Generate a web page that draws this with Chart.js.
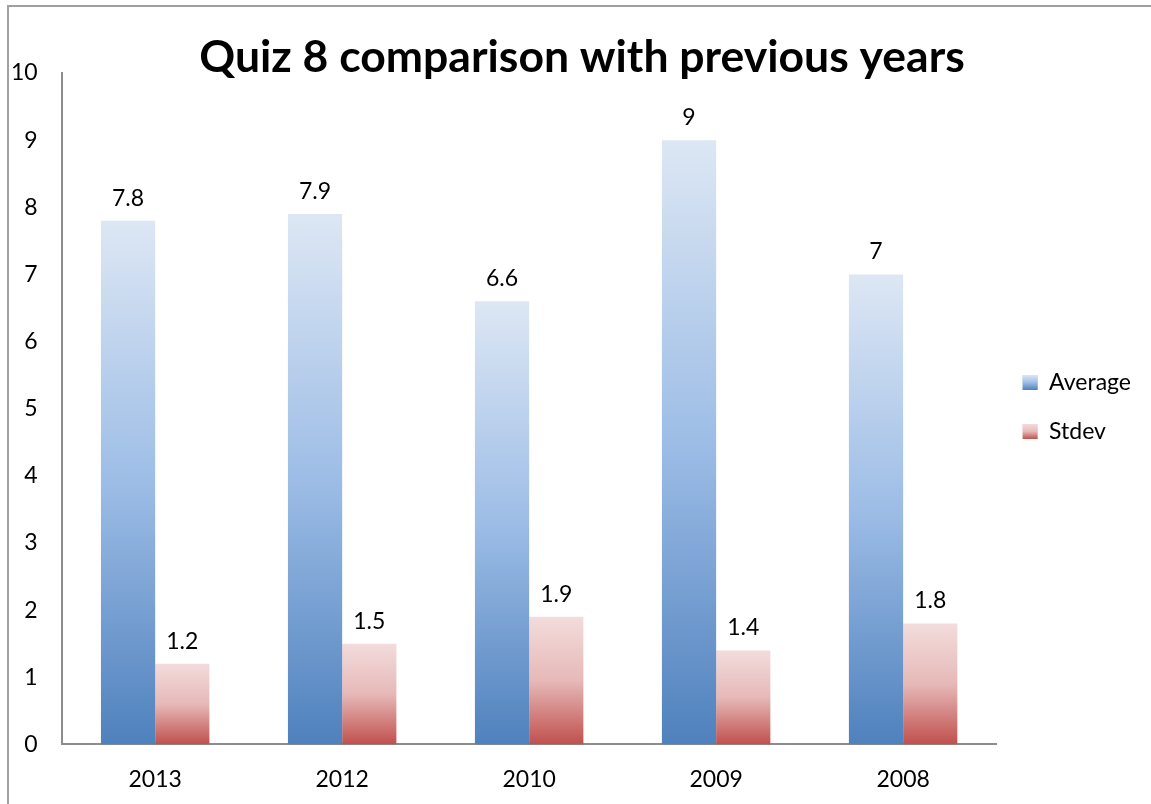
<!DOCTYPE html>
<html>
<head>
<meta charset="utf-8">
<script src="https://cdn.jsdelivr.net/npm/chart.js@4"></script>
<style>
  html, body { margin: 0; padding: 0; background: #fff; }
  #wrap { position: relative; width: 1151px; height: 804px; }
  #frame { position: absolute; left: 7px; top: 5px; right: -10px; bottom: -10px; border-left: 2px solid #a0a0a0; border-top: 2px solid #a0a0a0; }
  canvas { position: absolute; left: 0; top: 0; }
</style>
</head>
<body>
<div id="wrap">
  <div id="frame"></div>
  <canvas id="chart" width="1151" height="804"></canvas>
</div>
<script>
const years = ['2013', '2012', '2010', '2009', '2008'];
const averages = [7.8, 7.9, 6.6, 9, 7];
const stdevs = [1.2, 1.5, 1.9, 1.4, 1.8];
const yTicks = [0, 1, 2, 3, 4, 5, 6, 7, 8, 9, 10];

const FONT = 'Lato, "Open Sans", sans-serif';
const blueStops = ['#dde7f4', '#9dbde6', '#4f81bd'];
const redStops = ['#f3dcdc', '#e6b9b8', '#c0504d'];

function barGradient(stops) {
  return (ctx) => {
    const chart = ctx.chart;
    if (!chart.chartArea || ctx.type !== 'data') return stops[1];
    const y = chart.scales.y;
    const top = y.getPixelForValue(ctx.raw);
    const base = y.getPixelForValue(0);
    const g = chart.ctx.createLinearGradient(0, top, 0, base);
    g.addColorStop(0, stops[0]);
    g.addColorStop(0.5, stops[1]);
    g.addColorStop(1, stops[2]);
    return g;
  };
}

// value labels above each bar
const valueLabels = {
  id: 'valueLabels',
  afterDatasetsDraw(chart) {
    const ctx = chart.ctx;
    ctx.save();
    ctx.font = '23px ' + FONT;
    ctx.fillStyle = '#000';
    ctx.textAlign = 'center';
    ctx.textBaseline = 'bottom';
    chart.data.datasets.forEach((ds, i) => {
      chart.getDatasetMeta(i).data.forEach((bar, j) => {
        ctx.fillText(String(ds.data[j]), bar.x, bar.y - 11);
      });
    });
    ctx.restore();
  }
};

// gradient fill for the legend boxes
const legendGradient = {
  id: 'legendGradient',
  afterDraw(chart) {
    const legend = chart.legend;
    if (!legend || !legend.legendHitBoxes) return;
    const ctx = chart.ctx;
    const size = 15;
    const fontSize = 23;
    legend.legendHitBoxes.forEach((hb, i) => {
      const stops = i === 0 ? blueStops : redStops;
      const top = hb.top + (fontSize - size) / 2;
      const g = ctx.createLinearGradient(0, top, 0, top + size);
      g.addColorStop(0, stops[0]);
      g.addColorStop(0.5, stops[1]);
      g.addColorStop(1, stops[2]);
      ctx.fillStyle = g;
      ctx.fillRect(hb.left, top, size, size);
    });
  }
};

// the title sits a little right of the canvas centre
const titleShift = {
  id: 'titleShift',
  afterLayout(chart) {
    if (chart.titleBlock) {
      chart.titleBlock.left += 18;
      chart.titleBlock.right += 18;
    }
  }
};

new Chart(document.getElementById('chart'), {
  type: 'bar',
  data: {
    labels: years,
    datasets: [
      { label: 'Average', data: averages, backgroundColor: barGradient(blueStops), borderWidth: 0 },
      { label: 'Stdev', data: stdevs, backgroundColor: barGradient(redStops), borderWidth: 0 }
    ]
  },
  options: {
    responsive: false,
    animation: false,
    datasets: {
      bar: { categoryPercentage: 0.58, barPercentage: 1 }
    },
    layout: { padding: { left: -13, right: 10, top: 0, bottom: -10 } },
    plugins: {
      title: {
        display: true,
        text: 'Quiz 8 comparison with previous years',
        color: '#000',
        font: { family: FONT, size: 44.5, weight: 'bold', lineHeight: 1 },
        padding: { top: 35, bottom: -6.5 }
      },
      legend: {
        position: 'right',
        labels: {
          color: '#000',
          font: { family: FONT, size: 23 },
          boxWidth: 15,
          boxHeight: 15,
          padding: 26
        }
      },
      tooltip: { enabled: false }
    },
    scales: {
      x: {
        grid: { display: false, drawTicks: false },
        border: { display: true, color: '#8c8c8c', width: 2 },
        ticks: { color: '#000', font: { family: FONT, size: 23 }, padding: 21 }
      },
      y: {
        min: 0,
        max: 10,
        afterBuildTicks(scale) { scale.ticks = yTicks.map(v => ({ value: v })); },
        grid: { display: false, drawTicks: false },
        border: { display: true, color: '#8c8c8c', width: 2 },
        ticks: { color: '#000', font: { family: FONT, size: 23 }, padding: 24 }
      }
    }
  },
  plugins: [valueLabels, legendGradient, titleShift]
});
</script>
</body>
</html>
